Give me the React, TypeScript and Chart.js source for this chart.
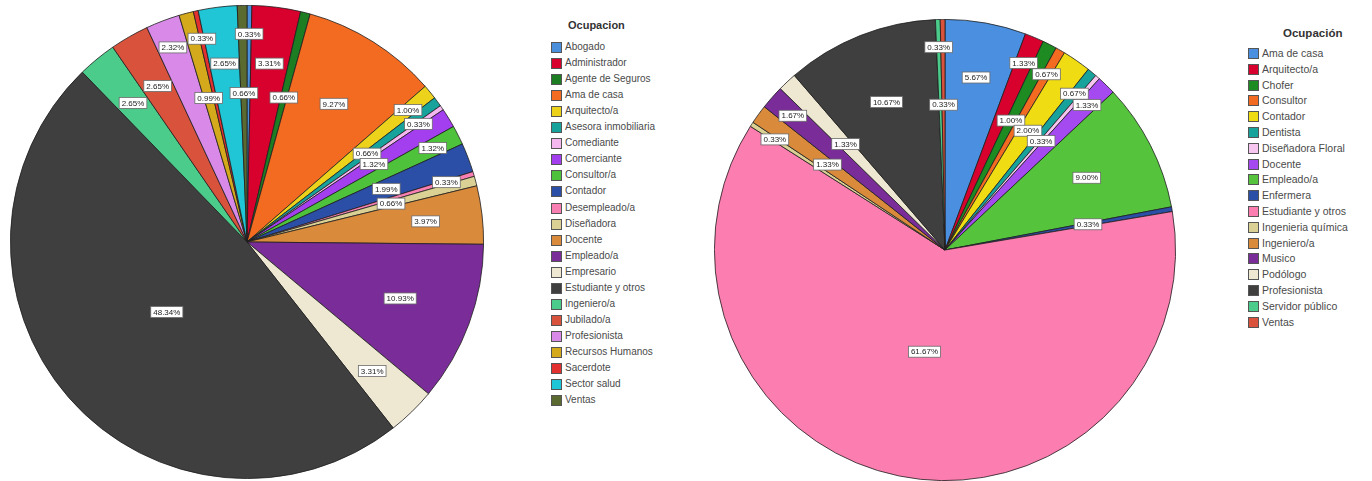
import React, { useEffect, useRef } from "react";
import { Chart, registerables } from "chart.js";

Chart.register(...registerables);

// ---------- Data: left chart ----------
const leftTitle = "Ocupacion";
const leftCategories = [
  "Abogado", "Administrador", "Agente de Seguros", "Ama de casa", "Arquitecto/a",
  "Asesora inmobiliaria", "Comediante", "Comerciante", "Consultor/a", "Contador",
  "Desempleado/a", "Diseñadora", "Docente", "Empleado/a", "Empresario",
  "Estudiante y otros", "Ingeniero/a", "Jubilado/a", "Profesionista", "Recursos Humanos",
  "Sacerdote", "Sector salud", "Ventas",
];
const leftValues = [
  0.33, 3.31, 0.66, 9.27, 1.0,
  0.66, 0.33, 1.32, 1.32, 1.99,
  0.33, 0.66, 3.97, 10.93, 3.31,
  48.34, 2.65, 2.65, 2.32, 0.99,
  0.33, 2.65, 0.66,
];
const leftColors = [
  "#4a8fdc", "#d8002c", "#1d7d22", "#f36a21", "#ecd21a",
  "#17a39b", "#f4b8ee", "#a43ff0", "#4fc23c", "#2b4fa6",
  "#f77fb2", "#dbd194", "#d98a3b", "#7a2c98", "#eee8d3",
  "#3f3f3f", "#4ccc8b", "#d9533c", "#d98ae8", "#d4a91c",
  "#e2312f", "#20c6d6", "#5b6a30",
];

// ---------- Data: right chart ----------
const rightTitle = "Ocupación";
const rightCategories = [
  "Ama de casa", "Arquitecto/a", "Chofer", "Consultor", "Contador",
  "Dentista", "Diseñadora Floral", "Docente", "Empleado/a", "Enfermera",
  "Estudiante y otros", "Ingenieria química", "Ingeniero/a", "Musico", "Podólogo",
  "Profesionista", "Servidor público", "Ventas",
];
const rightValues = [
  5.67, 1.33, 1.0, 0.67, 2.0,
  0.67, 0.33, 1.33, 9.0, 0.33,
  61.67, 0.33, 1.33, 1.67, 1.33,
  10.67, 0.33, 0.33,
];
const rightColors = [
  "#4a8fe0", "#d8002c", "#1d8a22", "#f36a21", "#f0dc12",
  "#17a39b", "#f6c6f0", "#a44af0", "#55c43c", "#2b4fa6",
  "#fc7daf", "#dbd194", "#d98a3b", "#7a2c98", "#eee8d3",
  "#3f3f3f", "#4ccc8b", "#d9533c",
];

// ---------- Label plugin (percent boxes inside slices) ----------
const pctLabelPlugin = {
  id: "pctLabels",
  afterDatasetsDraw(chart: any) {
    const ctx = chart.ctx;
    const ds = chart.data.datasets[0];
    const meta = chart.getDatasetMeta(0);
    const total = (ds.data as number[]).reduce((a, b) => a + b, 0);
    ctx.save();
    ctx.font = '8px "Liberation Sans", Arial, sans-serif';
    ctx.textAlign = "center";
    ctx.textBaseline = "middle";
    let small = 0;
    meta.data.forEach((arc: any, i: number) => {
      const p = arc.getProps(["x", "y", "startAngle", "endAngle", "outerRadius"], true);
      const v = ds.data[i] as number;
      const pct = (v / total) * 100;
      const mid = (p.startAngle + p.endAngle) / 2;
      let f: number;
      if (pct > 30) f = 0.45;
      else if (pct > 8) f = 0.69;
      else if (pct > 2.5) f = 0.76;
      else {
        f = small % 2 === 0 ? 0.88 : 0.63;
        small++;
      }
      const lx = p.x + Math.cos(mid) * p.outerRadius * f;
      const ly = p.y + Math.sin(mid) * p.outerRadius * f;
      const txt = v.toFixed(2) + "%";
      const w = ctx.measureText(txt).width + 5;
      const h = 11;
      ctx.fillStyle = "#ffffff";
      ctx.fillRect(lx - w / 2, ly - h / 2, w, h);
      ctx.strokeStyle = "#6a6a6a";
      ctx.lineWidth = 0.8;
      ctx.strokeRect(lx - w / 2, ly - h / 2, w, h);
      ctx.fillStyle = "#222";
      ctx.fillText(txt, lx, ly + 0.5);
    });
    ctx.restore();
  },
};

function PieChart({ labels, values, colors }: { labels: string[]; values: number[]; colors: string[] }) {
  const ref = useRef<HTMLCanvasElement | null>(null);
  useEffect(() => {
    if (!ref.current) return;
    const chart = new Chart(ref.current, {
      type: "pie",
      data: {
        labels,
        datasets: [
          {
            data: values,
            backgroundColor: colors,
            borderColor: "#1e1e1e",
            borderWidth: 0.8,
          },
        ],
      },
      options: {
        responsive: true,
        maintainAspectRatio: false,
        animation: false,
        layout: { padding: 0 },
        plugins: {
          legend: { display: false },
          tooltip: { enabled: false },
        },
      },
      plugins: [pctLabelPlugin],
    });
    return () => chart.destroy();
  }, []);
  return <canvas ref={ref} />;
}

function Legend({
  title, items, colors, squareX, textX, titleX, titleY, firstY, step, fontSize,
}: {
  title: string; items: string[]; colors: string[]; squareX: number; textX: number;
  titleX: number; titleY: number; firstY: number; step: number; fontSize: number;
}) {
  return (
    <>
      <div
        style={{
          position: "absolute", left: titleX, top: titleY - 8, height: 16, lineHeight: "16px",
          fontFamily: '"Liberation Sans", Arial, sans-serif', fontWeight: "bold",
          fontSize: fontSize + 1, color: "#333", whiteSpace: "nowrap",
        }}
      >
        {title}
      </div>
      {items.map((it, i) => {
        const cy = firstY + i * step;
        return (
          <React.Fragment key={it}>
            <div
              style={{
                position: "absolute", left: squareX, top: cy - 5, width: 9, height: 9,
                background: colors[i], border: "1px solid #555",
              }}
            />
            <div
              style={{
                position: "absolute", left: textX, top: cy - 8, height: 16, lineHeight: "16px",
                fontFamily: '"Liberation Sans", Arial, sans-serif', fontSize,
                color: "#4a4a4a", whiteSpace: "nowrap",
              }}
            >
              {it}
            </div>
          </React.Fragment>
        );
      })}
    </>
  );
}

export default function App() {
  return (
    <div
      style={{
        position: "absolute", left: 0, top: 0, width: 1372, height: 481,
        overflow: "hidden", background: "#ffffff",
      }}
    >
      <div style={{ position: "absolute", left: 10, top: 5, width: 474, height: 474 }}>
        <PieChart labels={leftCategories} values={leftValues} colors={leftColors} />
      </div>
      <Legend
        title={leftTitle} items={leftCategories} colors={leftColors}
        squareX={551} textX={565} titleX={568} titleY={25} firstY={47} step={16.05} fontSize={10}
      />
      <div style={{ position: "absolute", left: 714, top: 19, width: 462, height: 462 }}>
        <PieChart labels={rightCategories} values={rightValues} colors={rightColors} />
      </div>
      <Legend
        title={rightTitle} items={rightCategories} colors={rightColors}
        squareX={1248} textX={1262} titleX={1283} titleY={33} firstY={53} step={15.8} fontSize={10.5}
      />
    </div>
  );
}
